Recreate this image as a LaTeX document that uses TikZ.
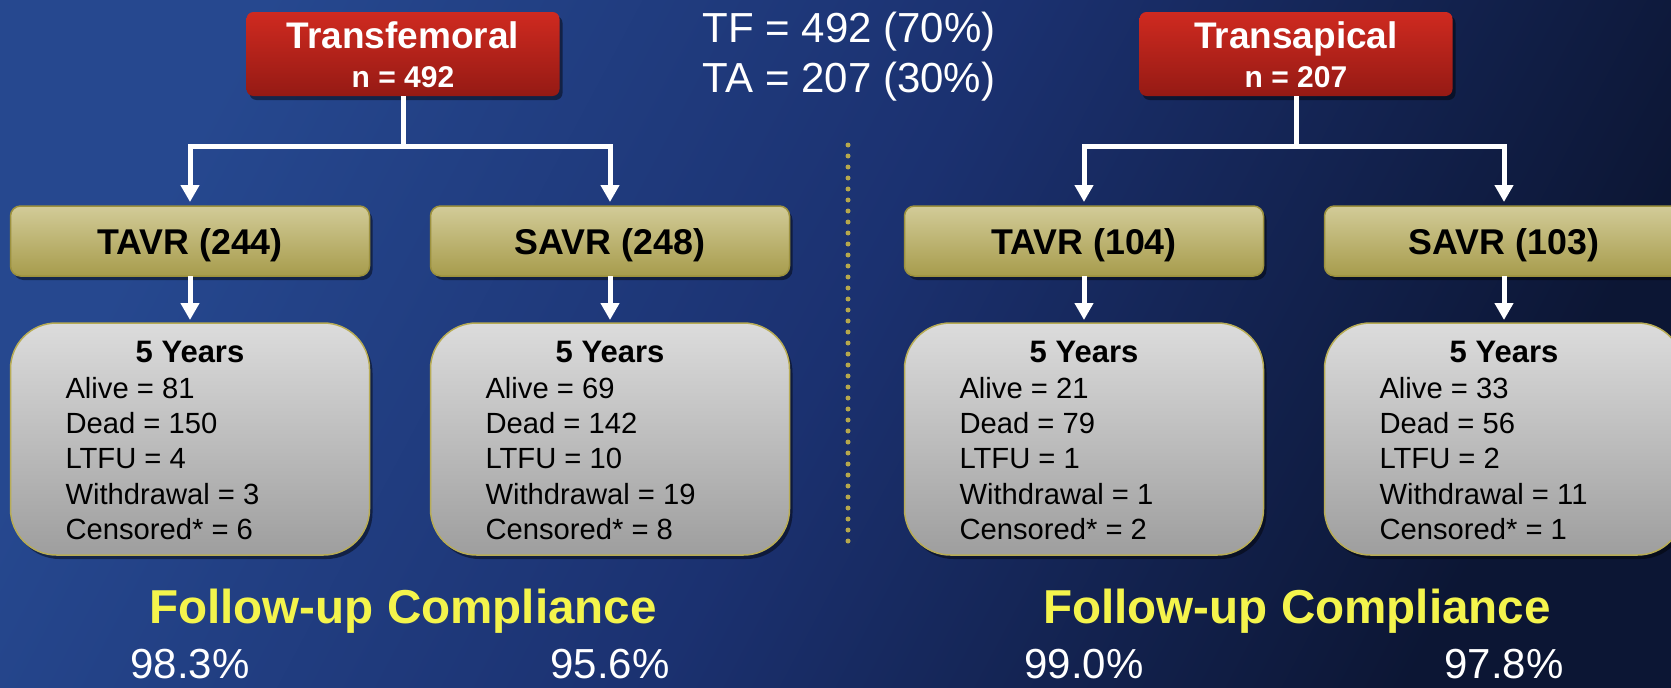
\documentclass[tikz,border=0pt]{standalone}
\usepackage{fontspec}
\setmainfont{Liberation Sans}
\usetikzlibrary{arrows.meta,shadows}
\definecolor{bgA}{HTML}{26488F}
\definecolor{bgM}{HTML}{1B3170}
\definecolor{bgB}{HTML}{0C1634}
\definecolor{redA}{HTML}{CF2A20}
\definecolor{redB}{HTML}{951A14}
\definecolor{oliveA}{HTML}{D2CB98}
\definecolor{oliveB}{HTML}{A79C4C}
\definecolor{oliveD}{HTML}{9C913E}
\definecolor{greyA}{HTML}{DCDCDC}
\definecolor{greyB}{HTML}{9E9E9E}
\definecolor{greyD}{HTML}{B8AC55}
\definecolor{dotc}{HTML}{B6A84C}
\definecolor{yel}{HTML}{F4F44C}
\newcommand{\fsz}[1]{\fontsize{#1}{#1}\selectfont}
\tikzset{
  boxshadow/.style={drop shadow={shadow xshift=3pt,shadow yshift=-4pt,opacity=0.45,fill=black}},
  redbox/.style={rounded corners=7pt,top color=redA,bottom color=redB,draw=none,
    minimum width=313pt,minimum height=84pt,inner sep=0pt,outer sep=0pt,boxshadow},
  olivebox/.style={rounded corners=10pt,top color=oliveA,bottom color=oliveB,draw=oliveD,line width=1.5pt,
    minimum width=359pt,minimum height=70pt,inner sep=0pt,outer sep=0pt,boxshadow},
  greybox/.style={rounded corners=46pt,top color=greyA,bottom color=greyB,draw=greyD,line width=1.5pt,
    minimum width=359pt,minimum height=232pt,inner sep=0pt,outer sep=0pt,boxshadow},
  txt/.style={inner sep=0pt,outer sep=0pt,anchor=base},
  headtxt/.style={txt,text=white,font=\bfseries\fsz{37}},
  ntxt/.style={txt,text=white,font=\bfseries\fsz{30}},
  armtxt/.style={txt,text=black,font=\bfseries\fsz{35.8}},
  yeartxt/.style={txt,text=black,font=\bfseries\fsz{31}},
  stattxt/.style={txt,anchor=base west,text=black,font=\fsz{29.2}},
  toptxt/.style={txt,text=white,font=\fsz{42}},
  fuptxt/.style={txt,text=yel,font=\bfseries\fsz{47.6}},
  pcttxt/.style={txt,text=white,font=\fsz{42}},
  conn/.style={draw=white,line width=5pt,-{Triangle[width=18pt,length=17pt]}},
}
\newcommand{\cohort}[9]{%
  \node[olivebox] (#1arm) at (#2,241) {};
  \node[armtxt] (#1armt) at (#2,254) {#3};
  \node[greybox] (#1box) at (#2,439) {};
  \node[yeartxt] (#1yr) at (#2,362) {5 Years};
  \node[stattxt] (#1s1) at (#2-124.5,398.5) {Alive = #4};
  \node[stattxt] (#1s2) at (#2-124.5,433.7) {Dead = #5};
  \node[stattxt] (#1s3) at (#2-124.5,468.9) {LTFU = #6};
  \node[stattxt] (#1s4) at (#2-124.5,504.1) {Withdrawal = #7};
  \node[stattxt] (#1s5) at (#2-124.5,539.3) {Censored* = #8};
  \node[pcttxt] (#1pct) at (#2,678) {#9};
  \draw[conn,shorten >=3pt] (#1arm.south) -- (#1box.north);
}
\begin{document}
\begin{tikzpicture}[x=1pt,y=-1pt]
  \useasboundingbox (0,0) rectangle (1671,688);
  \shade[top color=bgA,bottom color=bgB,middle color=bgM,shading angle=62] (-2,-2) rectangle (1673,690);
  % dotted divider
  \draw[dotc,line width=5pt,line cap=round,dash pattern=on 0pt off 11pt] (848,145) -- (848,552);
  % top boxes
  \node[redbox] (TF) at (403,54) {};
  \node[headtxt] (TFt) at (403,48.5) {Transfemoral};
  \node[ntxt] (TFn) at (403,87.5) {n = 492};
  \node[redbox] (TA) at (1296,54) {};
  \node[headtxt] (TAt) at (1296,48.5) {Transapical};
  \node[ntxt] (TAn) at (1296,87.5) {n = 207};
  % summary
  \node[toptxt] (sumTF) at (849,42) {TF = 492 (70\%)};
  \node[toptxt] (sumTA) at (849,92.5) {TA = 207 (30\%)};
  % cohorts
  \cohort{A}{190}{TAVR (244)}{81}{150}{4}{3}{6}{98.3\%}
  \cohort{B}{610}{SAVR (248)}{69}{142}{10}{19}{8}{95.6\%}
  \cohort{C}{1084}{TAVR (104)}{21}{79}{1}{1}{2}{99.0\%}
  \cohort{D}{1504}{SAVR (103)}{33}{56}{2}{11}{1}{97.8\%}
  % connectors from top boxes
  \draw[conn,shorten >=4pt] (TF.south) -- ++(0,50) -| (Aarm.north);
  \draw[conn,shorten >=4pt] (TF.south) -- ++(0,50) -| (Barm.north);
  \draw[conn,shorten >=4pt] (TA.south) -- ++(0,50) -| (Carm.north);
  \draw[conn,shorten >=4pt] (TA.south) -- ++(0,50) -| (Darm.north);
  % follow-up labels
  \node[fuptxt] (fupL) at (403,623) {Follow-up Compliance};
  \node[fuptxt] (fupR) at (1297,623) {Follow-up Compliance};
\end{tikzpicture}
\end{document}
